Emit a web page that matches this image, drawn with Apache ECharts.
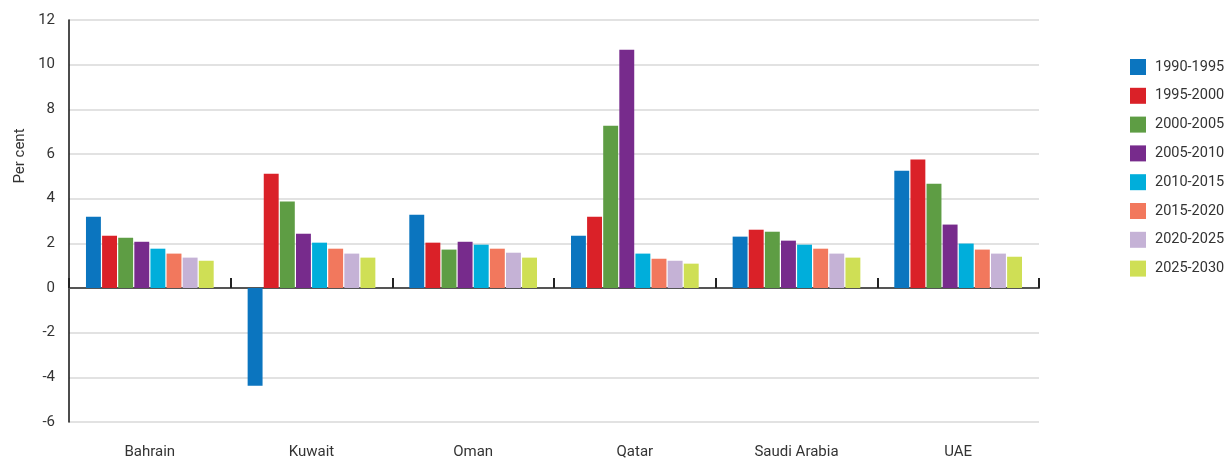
<!DOCTYPE html>
<html>
<head>
<meta charset="utf-8">
<script src="https://cdn.jsdelivr.net/npm/echarts@6/dist/echarts.min.js"></script>
<style>
  html, body { margin: 0; padding: 0; background: #fff; }
  #chart { width: 1228px; height: 460px; }
</style>
</head>
<body>
<div id="chart"></div>
<script>
const countries = ['Bahrain', 'Kuwait', 'Oman', 'Qatar', 'Saudi Arabia', 'UAE'];
const periods = ['1990-1995', '1995-2000', '2000-2005', '2005-2010', '2010-2015', '2015-2020', '2020-2025', '2025-2030'];
const colors = ['#0b75bf', '#da2128', '#5e9d44', '#772b8c', '#00aedb', '#f2785d', '#c5b2d6', '#cfdf55'];

// values per period, one entry per country
const p1990 = [3.19, -4.38, 3.28, 2.34, 2.30, 5.25];
const p1995 = [2.34, 5.12, 2.03, 3.19, 2.61, 5.75];
const p2000 = [2.25, 3.87, 1.72, 7.27, 2.52, 4.67];
const p2005 = [2.07, 2.43, 2.07, 10.67, 2.12, 2.84];
const p2010 = [1.76, 2.03, 1.94, 1.54, 1.94, 1.99];
const p2015 = [1.54, 1.76, 1.76, 1.31, 1.76, 1.72];
const p2020 = [1.36, 1.54, 1.58, 1.22, 1.54, 1.54];
const p2025 = [1.22, 1.36, 1.36, 1.09, 1.36, 1.40];

const yTicks = [-6, -4, -2, 0, 2, 4, 6, 8, 10, 12];

const seriesData = [p1990, p1995, p2000, p2005, p2010, p2015, p2020, p2025];
const font = "'Roboto', sans-serif";

const chart = echarts.init(document.getElementById('chart'));

const series = periods.map((name, i) => ({
    name: name,
    type: 'bar',
    xAxisIndex: 0,
    data: seriesData[i],
    itemStyle: { color: colors[i] },
    barGap: '8%',
    barCategoryGap: '21%',
}));

chart.setOption({
    animation: false,
    grid: { left: 69, right: 189, top: 20, bottom: 37 },
    legend: {
        orient: 'vertical',
        left: 1125,
        top: 54,
        itemWidth: 16,
        itemHeight: 16,
        itemGap: 12.8,
        icon: 'rect',
        data: periods,
        textStyle: { fontFamily: font, fontSize: 14.5, color: '#333', padding: [0, 0, 0, 4] },
    },
    xAxis: [
        {
            type: 'category',
            data: countries,
            position: 'bottom',
            axisLine: { show: false, onZero: false },
            axisTick: { show: false },
            axisLabel: { fontFamily: font, fontSize: 15, color: '#333', margin: 23 },
        },
        {
            type: 'category',
            data: countries,
            position: 'bottom',
            axisLine: { onZero: true, lineStyle: { color: '#555', width: 2 } },
            axisTick: { show: true, inside: true, length: 10, lineStyle: { color: '#222', width: 2 } },
            axisLabel: { show: false },
        },
    ],
    yAxis: {
        type: 'value',
        min: yTicks[0],
        max: yTicks[yTicks.length - 1],
        interval: 2,
        axisLine: { show: true, lineStyle: { color: '#111', width: 1.5 } },
        axisTick: { show: false },
        axisLabel: { fontFamily: font, fontSize: 15, color: '#333', margin: 14 },
        splitLine: { lineStyle: { color: '#d9d9d9', width: 1.5 } },
    },
    graphic: [{
        type: 'text',
        x: 20,
        y: 156,
        rotation: Math.PI / 2,
        style: {
            text: 'Per cent',
            fontFamily: font,
            fontSize: 15,
            fill: '#333',
            align: 'center',
            verticalAlign: 'middle',
        },
    }],
    series: series,
});
</script>
</body>
</html>
